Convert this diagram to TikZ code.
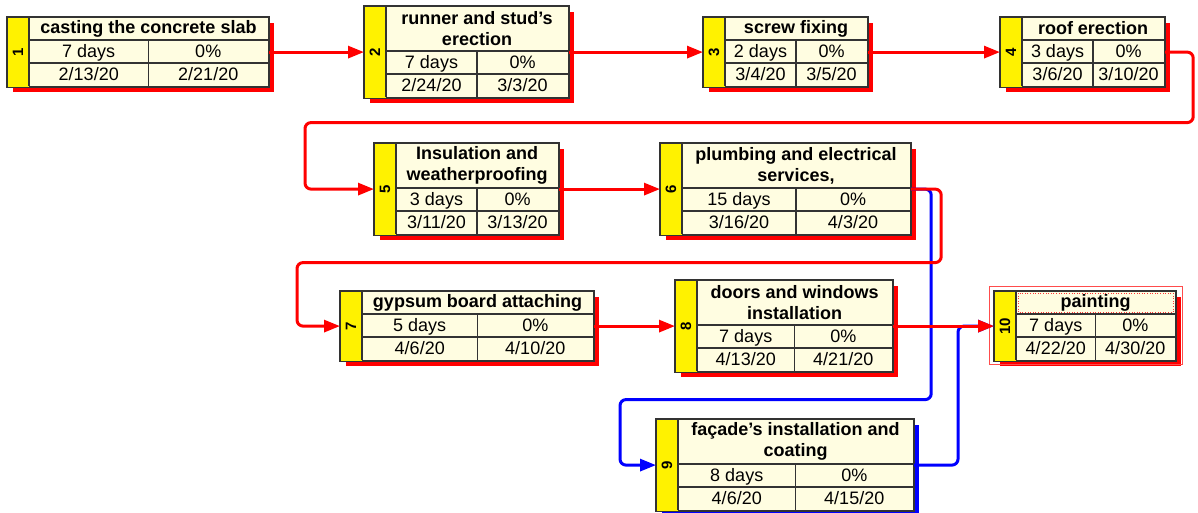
\documentclass[tikz,border=0pt]{standalone}
\usepackage{fontspec}
\setmainfont{Liberation Sans}
\usepackage{xcolor}
\usepackage{tikz}
\usetikzlibrary{arrows.meta,calc,positioning,shadows}
\definecolor{cardfill}{RGB}{255,253,225}
\definecolor{linkred}{RGB}{255,0,0}
\definecolor{linkblue}{RGB}{0,0,255}
% [shadow colour]{id}{north west corner}{card width}{title height}{title}{duration}{start}{finish}
\newcommand{\pertbox}[9][linkred]{%
  \node[card, drop shadow={shadow xshift=5pt, shadow yshift=-5pt, fill=#1, opacity=1},
        minimum width={#4+22}, minimum height={#5+46}] (t#2) at #3 {};
  \coordinate (t#2-a) at ([xshift=22pt]t#2.north west);
  \path[idstrip] (t#2.north west) rectangle ([xshift=22pt]t#2.south west);
  \node[idtext] (t#2-id) at ($(t#2.west)+(11,0)$) {#2};
  \node[tasktitle] (t#2-title) at ($(t#2-a)+(#4/2,#5/2)$) {#6};
  \path[draw, grid] ($(t#2-a)+(0,#5)$) -- ++(#4,0)
                    ($(t#2-a)+(0,#5+23)$) -- ++(#4,0)
                    ($(t#2-a)+(#4/2,#5)$) -- ++(0,46)
                    (t#2-a) -- ++(0,#5+46);
  \node[cell] (t#2-dur) at ($(t#2-a)+(#4/4,#5+11.5)$) {#7};
  \node[cell] (t#2-pct) at ($(t#2-a)+(3*#4/4,#5+11.5)$) {0\%};
  \node[cell] (t#2-start) at ($(t#2-a)+(#4/4,#5+34.5)$) {#8};
  \node[cell] (t#2-end) at ($(t#2-a)+(3*#4/4,#5+34.5)$) {#9};
  \path[draw, grid] (t#2.north west) rectangle (t#2.south east);
}

\begin{document}
\begin{tikzpicture}[
    x=1pt, y=-1pt,
    card/.style={rectangle, anchor=north west, fill=cardfill, draw=black!80, line width=1.2pt, inner sep=0},
    grid/.style={draw=black!80, line width=1.2pt},
    idstrip/.style={fill=yellow},
    idtext/.style={rotate=90, inner sep=0, font=\bfseries\fontsize{15}{15}\selectfont},
    tasktitle/.style={align=center, inner sep=0, font=\bfseries\fontsize{18}{21}\selectfont},
    cell/.style={inner sep=0, text height=13pt, text depth=1pt, font=\fontsize{18}{21}\selectfont},
    link/.style={draw=linkred, line width=3pt, rounded corners=6pt, -{Triangle[length=16pt, width=12pt]}},
    blink/.style={link, draw=linkblue},
    selframe/.style={draw=linkred!70, line width=0.8pt},
    selcell/.style={draw=linkred!80, line width=0.6pt, dotted}]
\useasboundingbox (0,0) rectangle (1198,513);

\pertbox{1}{(7,17)}{239}{23}{casting the concrete slab}{7 days}{2/13/20}{2/21/20}
\pertbox{2}{(364,6)}{182}{45}{runner and stud’s\\erection}{7 days}{2/24/20}{3/3/20}
\pertbox{3}{(703,17)}{142}{23}{screw fixing}{2 days}{3/4/20}{3/5/20}
\pertbox{4}{(1000,17)}{142}{23}{roof erection}{3 days}{3/6/20}{3/10/20}
\pertbox{5}{(374,143)}{162}{45}{Insulation and\\weatherproofing}{3 days}{3/11/20}{3/13/20}
\pertbox{6}{(660,143)}{228}{45}{plumbing and electrical\\services,}{15 days}{3/16/20}{4/3/20}
\pertbox{7}{(340,291)}{231}{23}{gypsum board attaching}{5 days}{4/6/20}{4/10/20}
\pertbox{8}{(675,280)}{195}{45}{doors and windows\\installation}{7 days}{4/13/20}{4/21/20}
\pertbox[linkblue]{9}{(656,419)}{235}{45}{façade’s installation and\\coating}{8 days}{4/6/20}{4/15/20}
\pertbox{10}{(994,291)}{159}{23}{painting}{7 days}{4/22/20}{4/30/20}

\path[draw, selframe] ([shift={(-5,-5)}]t10.north west) rectangle ([shift={(6,3)}]t10.south east);
\path[draw, selcell] ([shift={(2,2)}]t10-a) rectangle ($(t10-a)+(157,21)$);

\draw[blink] (t6.east) -| ++(20,210.5) -| ($(t9.west)+(-36,0)$) -- (t9.west);
\draw[blink] (t9.east) -| ($(t10.west)+(-36,0)$) -- (t10.west);

\draw[link] (t1.east) -- (t2.west);
\draw[link] (t2.east) -- (t3.west);
\draw[link] (t3.east) -- (t4.west);
\draw[link] (t4.east) -| ++(28,70.5) -| ($(t5.west)+(-69,0)$) -- (t5.west);
\draw[link] (t5.east) -- (t6.west);
\draw[link] (t6.east) -| ++(30,73.5) -| ($(t7.west)+(-43,0)$) -- (t7.west);
\draw[link] (t7.east) -- (t8.west);
\draw[link] (t8.east) -- (t10.west);

\end{tikzpicture}
\end{document}
